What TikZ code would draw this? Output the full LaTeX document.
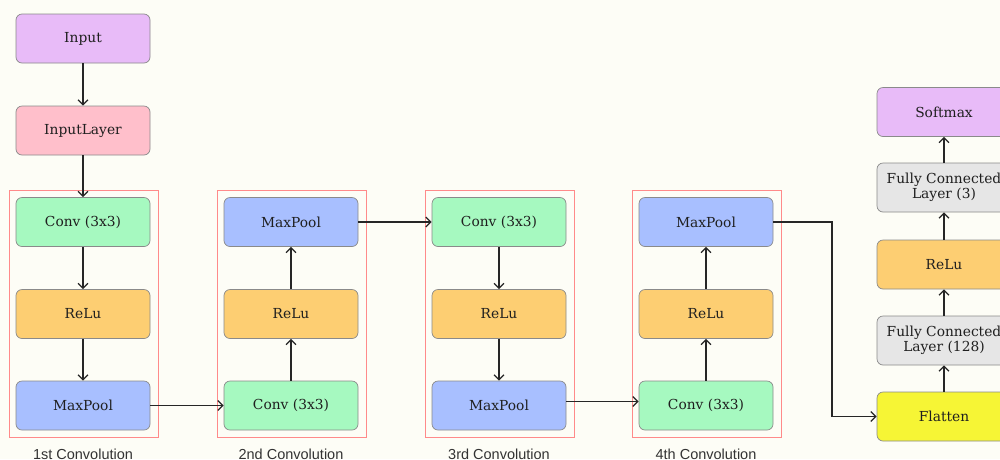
\documentclass[tikz,border=0pt]{standalone}
\usepackage{fontspec}
\setmainfont{DejaVu Serif}
\newfontfamily\labelfont{Liberation Sans}
\usetikzlibrary{arrows.meta}
\definecolor{bgc}{HTML}{FDFDF6}
\definecolor{cinput}{HTML}{E8BBF8}
\definecolor{cinlayer}{HTML}{FFBFCB}
\definecolor{cconv}{HTML}{A6F9C0}
\definecolor{crelu}{HTML}{FDCE72}
\definecolor{cpool}{HTML}{A8BFFF}
\definecolor{cfc}{HTML}{E6E6E6}
\definecolor{cflat}{HTML}{F6F535}
\definecolor{cgroup}{HTML}{FF8A8A}
\definecolor{cborder}{HTML}{8A8A8A}
\tikzset{
  blk/.style={draw=cborder, line width=0.7pt, rounded corners=6pt, minimum width=134pt, minimum height=49pt, inner sep=2pt, align=center, font=\fontsize{13.8}{15.5}\selectfont, text=black!88},
  grp/.style={draw=cgroup, line width=0.7pt},
  lbl/.style={font=\labelfont\fontsize{14.5}{16}\selectfont, text=black!80},
  arr/.style={draw=black!85, line width=1.2pt, -{Straight Barb[length=5pt,width=10pt]}}
}
\begin{document}
\begin{tikzpicture}[x=1pt,y=-1pt]
\fill[bgc] (0,0) rectangle (1000,459);
\useasboundingbox (0,0) rectangle (1000,459);
% groups
\node[grp, minimum width=149pt, minimum height=247pt, inner sep=0pt] (g1) at (83.5,313.5) {};
\node[grp, minimum width=149pt, minimum height=247pt, inner sep=0pt] (g2) at (291.5,313.5) {};
\node[grp, minimum width=149pt, minimum height=247pt, inner sep=0pt] (g3) at (499.5,313.5) {};
\node[grp, minimum width=149pt, minimum height=247pt, inner sep=0pt] (g4) at (706.5,313.5) {};
\node[lbl] (l1) at (83,454) {1st Convolution};
\node[lbl] (l2) at (291,454) {2nd Convolution};
\node[lbl] (l3) at (499,454) {3rd Convolution};
\node[lbl] (l4) at (706,454) {4th Convolution};
% nodes
\node[blk, fill=cinput] (input) at (83,38.5) {Input};
\node[blk, fill=cinlayer] (inlayer) at (83,130.5) {InputLayer};
\node[blk, fill=cconv] (c1) at (83,222) {Conv (3x3)};
\node[blk, fill=crelu] (r1) at (83,314) {ReLu};
\node[blk, fill=cpool] (p1) at (83,405.5) {MaxPool};
\node[blk, fill=cpool] (p2) at (291,222) {MaxPool};
\node[blk, fill=crelu] (r2) at (291,314) {ReLu};
\node[blk, fill=cconv] (c2) at (291,405.5) {Conv (3x3)};
\node[blk, fill=cconv] (c3) at (499,222) {Conv (3x3)};
\node[blk, fill=crelu] (r3) at (499,314) {ReLu};
\node[blk, fill=cpool] (p3) at (499,405.5) {MaxPool};
\node[blk, fill=cpool] (p4) at (706,222) {MaxPool};
\node[blk, fill=crelu] (r4) at (706,314) {ReLu};
\node[blk, fill=cconv] (c4) at (706,405.5) {Conv (3x3)};
\node[blk, fill=cinput] (soft) at (944,112) {Softmax};
\node[blk, fill=cfc] (fc3) at (944,187.5) {Fully Connected\\Layer (3)};
\node[blk, fill=crelu] (r5) at (944,264.5) {ReLu};
\node[blk, fill=cfc] (fc128) at (944,340.5) {Fully Connected\\Layer (128)};
\node[blk, fill=cflat] (flat) at (944,416.5) {Flatten};
% connectors
\draw[arr] (input) -- (inlayer);
\draw[arr] (inlayer) -- (c1);
\draw[arr] (c1) -- (r1);
\draw[arr] (r1) -- (p1);
\draw[arr] (p1.east) -- (c2.west);
\draw[arr] (c2) -- (r2);
\draw[arr] (r2) -- (p2);
\draw[arr] (p2.east) -- (c3.west);
\draw[arr] (c3) -- (r3);
\draw[arr] (r3) -- (p3);
\draw[arr] ([yshift=4pt]p3.east) -- ([yshift=4pt]c4.west);
\draw[arr] (c4) -- (r4);
\draw[arr] (r4) -- (p4);
\coordinate (bend) at (832,0);
\draw[arr] (p4.east) -| (bend |- flat.west) -- (flat.west);
\draw[arr] (flat) -- (fc128);
\draw[arr] (fc128) -- (r5);
\draw[arr] (r5) -- (fc3);
\draw[arr] (fc3) -- (soft);
\end{tikzpicture}
\end{document}
